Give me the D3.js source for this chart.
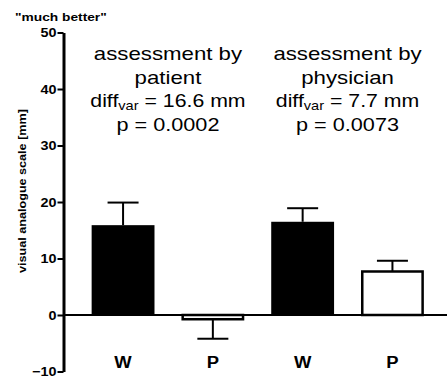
<!DOCTYPE html>
<html><head><meta charset="utf-8">
<script src="https://cdn.jsdelivr.net/npm/d3@7"></script>
<style>body{margin:0;background:#fff}svg{display:block}text{font-family:"Liberation Sans",Arial,sans-serif;fill:#000}</style>
</head><body><svg id="c" width="447" height="378"></svg>
<script>
const categories = ["W","P","W","P"];
const groups = ["patient","patient","physician","physician"];
const means = [15.9, -0.75, 16.5, 7.7];
const sems = [4.0, 3.45, 2.4, 1.9];
const yTicks = [-10, 0, 10, 20, 30, 40, 50];
const notes = [
  {center: 1, lines: ["assessment by", "patient"], diff: "16.6 mm", p: "p = 0.0002"},
  {center: 3, lines: ["assessment by", "physician"], diff: "7.7 mm", p: "p = 0.0073"}
];
const STRETCH = 1.15;

const svg = d3.select("#c");
const y = d3.scaleLinear().domain([-10, 50]).range([371.5, 32.5]);
const x = d3.scaleBand().domain(d3.range(categories.length)).range([64.7, 450.8]).paddingInner(0.3).paddingOuter(0.3);

function stretch(sel, f) {
  sel.each(function(){ const w = this.getComputedTextLength(); d3.select(this).attr("textLength", w*(f||STRETCH)).attr("lengthAdjust","spacingAndGlyphs"); });
}

// zero line
svg.append("line").attr("x1", 63).attr("x2", 447).attr("y1", y(0)).attr("y2", y(0)).attr("stroke","#000").attr("stroke-width",2.2);

// error bars
const eb = svg.append("g").attr("stroke","#000").attr("stroke-width",2);
categories.forEach((c,i)=>{
  const cx = x(i) + x.bandwidth()/2;
  const m = means[i], e = means[i] >= 0 ? means[i]+sems[i] : means[i]-sems[i];
  eb.append("line").attr("x1",cx).attr("x2",cx).attr("y1",y(m)).attr("y2",y(e));
  eb.append("line").attr("x1",cx-15.5).attr("x2",cx+15.5).attr("y1",y(e)).attr("y2",y(e));
});

// bars
svg.append("g").selectAll("rect").data(means).join("rect")
  .attr("x",(d,i)=>x(i)+ (categories[i]==="P"?1.25:0))
  .attr("width",(d,i)=>x.bandwidth() - (categories[i]==="P"?2.5:0))
  .attr("y",d=>Math.min(y(d),y(0)))
  .attr("height",d=>Math.abs(y(d)-y(0)))
  .attr("fill",(d,i)=>categories[i]==="W"?"#000":"#fff")
  .attr("stroke","#000").attr("stroke-width",(d,i)=>categories[i]==="W"?0:2.5);

// y axis
const yAxis = svg.append("g").attr("transform","translate(63.5,0)")
  .call(d3.axisLeft(y).tickValues(yTicks).tickSize(6).tickSizeOuter(0).tickPadding(1));
yAxis.select(".domain").attr("stroke-width",3);
yAxis.selectAll(".tick line").attr("stroke-width",2);
yAxis.selectAll(".tick text").attr("font-size",12.5).attr("font-weight","bold").attr("font-family",'"Liberation Sans",Arial,sans-serif').attr("fill","#000").call(stretch);

// category labels
svg.append("g").selectAll("text").data(categories).join("text")
  .attr("x",(d,i)=>x(i)+x.bandwidth()/2).attr("y",368)
  .attr("text-anchor","middle").attr("font-size",16).attr("font-weight","bold").text(d=>d).call(stretch);

// title & y label
svg.append("text").attr("x",15).attr("y",20.5).attr("font-size",11).attr("font-weight","bold").text('"much better"').call(stretch,1.25);
svg.append("text").attr("transform",`translate(26,${191}) rotate(-90)`).attr("text-anchor","middle")
  .attr("font-size",10.5).attr("font-weight","bold").text("visual analogue scale [mm]").call(stretch,1.2);

// annotations
notes.forEach(n=>{
  const px = (x(n.center-1) + x(n.center) + x.bandwidth())/2;
  const g = svg.append("g").attr("font-size",19).attr("text-anchor","middle");
  const base = [60, 84, 107, 131];
  n.lines.forEach((l,k)=> g.append("text").attr("x",px).attr("y",base[k]).text(l).call(stretch,1.17));
  const t = g.append("text").attr("x",px).attr("y",base[2]);
  t.append("tspan").text("diff");
  t.append("tspan").attr("font-size",13).attr("dy",3).text("var");
  t.append("tspan").attr("dy",-3).text(" = " + n.diff);
  t.call(stretch,1.12);
  g.append("text").attr("x",px).attr("y",base[3]).text(n.p).call(stretch,1.14);
});
</script></body></html>
